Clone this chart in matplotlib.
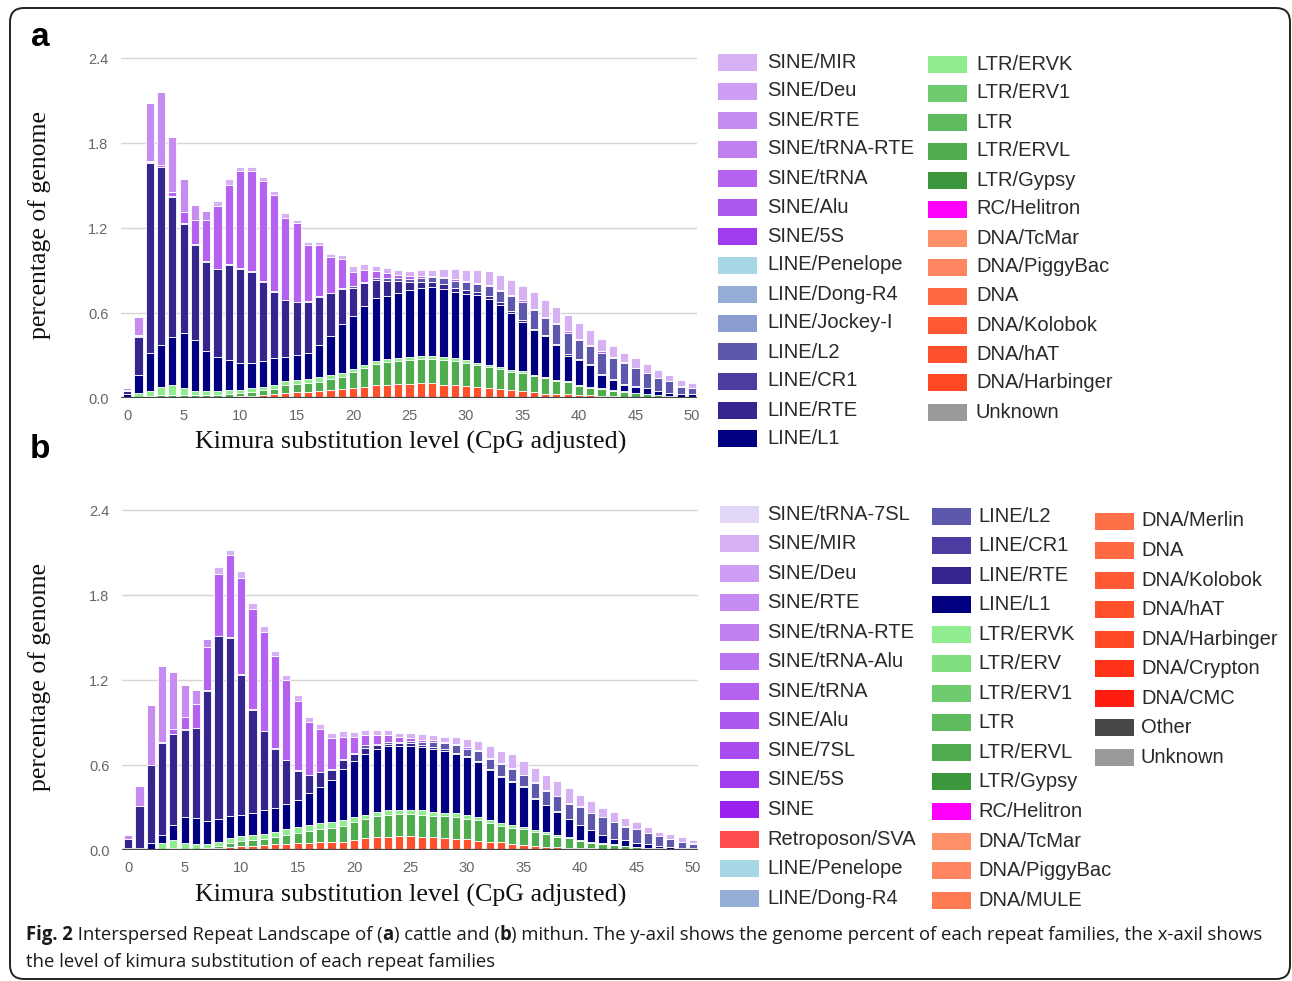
import numpy as np
import matplotlib
matplotlib.use("Agg")
import matplotlib.pyplot as plt
from matplotlib.patches import Rectangle, FancyBboxPatch
from matplotlib.transforms import IdentityTransform


W, H = 1292, 981
KIMURA = np.arange(51)

# ---- panel a (cattle): stacked segment heights, % of genome ----
dna_hat_a = [0, .005, .005, .005, .005, .005, .01, .01, .01, .01,
             .015, .015, .02, .025, .035, .04, .045, .05, .055, .065,
             .07, .08, .09, .095, .10, .10, .105, .105, .095, .09,
             .085, .078, .07, .065, .055, .047, .04, .03, .028, .025,
             .02, .018, .015, .012, .01, .008, .006, .005, .004, .003, .003]
ltr_ervl_a = [.002, .005, .01, .015, .015, .015, .01, .01, .01, .015,
              .02, .03, .035, .04, .055, .06, .06, .065, .08, .085,
              .115, .135, .15, .16, .16, .17, .17, .17, .175, .17,
              .165, .154, .148, .14, .13, .128, .113, .108, .092, .085,
              .067, .056, .05, .039, .033, .024, .021, .013, .01, .006, .006]
ltr_ervk_a = [.008, .025, .035, .06, .07, .05, .03, .03, .03, .035,
              .025, .025, .025, .025, .03, .03, .03, .03, .03, .03,
              .02, .02, .02, .02, .02, .02, .02, .02, .02, .02,
              .02, .018, .017, .015, .015, .015, .012, .012, .01, .01,
              .008, .006, .005, .004, .004, .003, .003, .002, .001, .001, .001]
line_l1_a = [.02, .125, .27, .295, .34, .39, .36, .285, .24, .21,
             .19, .18, .18, .19, .17, .175, .185, .23, .27, .34,
             .375, .415, .445, .445, .465, .47, .485, .49, .48, .47,
             .465, .48, .465, .44, .40, .35, .315, .285, .245, .18,
             .175, .155, .095, .075, .048, .045, .04, .027, .02, .02, .015]
line_rte_a = [.02, .27, 1.34, 1.255, .99, .77, .67, .625, .62, .67,
              .665, .64, .56, .47, .40, .37, .36, .34, .305, .25,
              .20, .16, .13, .11, .08, .06, .04, .035, .035, .03,
              .025, .02, .02, .015, .015, .012, .01, .01, .008, .008,
              .006, .005, .004, .004, .003, .003, .002, .002, .002, .001, .001]
line_l2_a = [0, .005, .005, .005, .005, .005, .005, .005, .005, .005,
             .005, .005, .005, .005, .005, .005, .005, .005, .005, .005,
             .01, .01, .015, .02, .02, .02, .03, .035, .04, .05,
             .06, .055, .07, .08, .105, .128, .13, .12, .137, .152,
             .134, .125, .151, .146, .152, .127, .103, .091, .083, .049, .044]
sine_trna_a = [.01, .01, .01, .01, .03, .08, .175, .295, .44, .56,
               .685, .71, .71, .68, .58, .555, .395, .36, .25, .205,
               .10, .085, .05, .035, .025, .02, .015, .01, .01, .01,
               .01, .01, .01, .01, .01, .01, .01, .01, .01, .01,
               .01, .01, .01, .008, .007, .005, .005, .004, .003, .003, .002]
sine_rte_a = [.01, .13, .41, .52, .39, .23, .105, .065, 0, 0,
              0, 0, 0, 0, 0, 0, 0, 0, 0, 0,
              0, 0, 0, 0, 0, 0, 0, 0, 0, 0,
              0, 0, 0, 0, 0, 0, 0, 0, 0, 0,
              0, 0, 0, 0, 0, 0, 0, 0, 0, 0, 0]
sine_mir_a = [0, 0, 0, 0, 0, 0, 0, 0, .04, .04,
              .03, .03, .03, .025, .03, .025, .025, .025, .02, .03,
              .04, .04, .035, .035, .035, .035, .04, .04, .055, .07,
              .075, .09, .095, .105, .105, .10, .12, .115, .115, .12,
              .11, .105, .09, .082, .063, .065, .06, .051, .037, .047, .033]

# ---- panel b (mithun) ----
dna_hat_b = [0, 0, .002, .005, .005, .005, .005, .01, .015, .02,
             .028, .03, .035, .04, .04, .047, .052, .055, .054, .06,
             .07, .082, .09, .094, .098, .098, .094, .09, .085, .08,
             .075, .066, .059, .054, .04, .035, .03, .023, .023, .016,
             .012, .012, .01, .008, .006, .005, .004, .003, .002, .002, .001]
ltr_ervl_b = [.001, .001, .001, .005, .01, .005, .005, .005, .015, .027,
              .037, .04, .045, .052, .068, .073, .084, .095, .101, .11,
              .129, .134, .15, .156, .158, .158, .156, .152, .152, .152,
              .146, .144, .131, .116, .116, .111, .095, .092, .07, .068,
              .05, .041, .032, .028, .019, .016, .01, .008, .006, .004, .003]
ltr_ervk_b = [.002, .004, .007, .04, .055, .04, .03, .025, .03, .04,
              .035, .035, .03, .035, .04, .04, .04, .04, .04, .04,
              .035, .03, .03, .03, .03, .03, .03, .028, .028, .026,
              .025, .024, .02, .02, .02, .018, .015, .014, .012, .01,
              .008, .006, .005, .004, .003, .002, .002, .001, .001, .001, .001]
line_l1_b = [.01, .01, .037, .055, .106, .184, .187, .166, .16, .153,
             .15, .155, .175, .173, .18, .196, .224, .255, .302, .364,
             .392, .434, .445, .454, .452, .452, .45, .445, .438, .417,
             .41, .386, .357, .325, .304, .281, .223, .187, .165, .122,
             .106, .081, .058, .035, .042, .024, .024, .016, .014, .005, .005]
line_rte_b = [.065, .295, .553, .652, .644, .616, .633, .919, 1.29, 1.26,
              .99, .73, .555, .415, .305, .204, .127, .105, .07, .063,
              .049, .04, .025, .018, .015, .015, .012, .012, .01, .01,
              .01, .008, .008, .007, .006, .005, .005, .004, .004, .003,
              .003, .003, .002, .002, .002, .002, .001, .001, .001, .001, .001]
line_l2_b = [0, .003, .003, .003, .003, .003, .003, .003, .003, .003,
             .003, .003, .003, .003, .003, .003, .003, .003, .005, .008,
             .01, .02, .01, .008, .013, .015, .018, .039, .042, .055,
             .049, .072, .07, .088, .088, .077, .108, .10, .106, .109,
             .126, .115, .123, .118, .092, .096, .076, .069, .051, .046, .034]
sine_trna_b = [0, 0, 0, 0, .03, .09, .17, .305, .44, .58,
               .68, .71, .70, .655, .562, .49, .373, .305, .218, .155,
               .112, .07, .06, .05, .03, .025, .02, .012, .01, .01,
               .01, .008, .008, .008, .007, .006, .006, .005, .005, .005,
               .004, .004, .003, .003, .003, .002, .002, .002, .001, .001, .001]
sine_rte_b = [.025, .14, .42, .543, .405, .225, .10, .06, 0, 0,
              0, 0, 0, 0, 0, 0, 0, 0, 0, 0,
              0, 0, 0, 0, 0, 0, 0, 0, 0, 0,
              0, 0, 0, 0, 0, 0, 0, 0, 0, 0,
              0, 0, 0, 0, 0, 0, 0, 0, 0, 0, 0]
sine_mir_b = [0, 0, 0, 0, 0, 0, 0, 0, .05, .04,
              .05, .045, .04, .035, .042, .04, .04, .035, .04, .04,
              .04, .035, .035, .035, .034, .036, .04, .035, .035, .047,
              .06, .065, .085, .085, .094, .095, .098, .105, .105, .105,
              .081, .085, .067, .072, .056, .053, .045, .029, .037, .029, .023]

# legend columns (top-to-bottom order; stacking is the reverse)
legend_a_cols = [
  ["SINE/MIR", "SINE/Deu", "SINE/RTE", "SINE/tRNA-RTE", "SINE/tRNA", "SINE/Alu",
   "SINE/5S", "LINE/Penelope", "LINE/Dong-R4", "LINE/Jockey-I", "LINE/L2",
   "LINE/CR1", "LINE/RTE", "LINE/L1"],
  ["LTR/ERVK", "LTR/ERV1", "LTR", "LTR/ERVL", "LTR/Gypsy", "RC/Helitron",
   "DNA/TcMar", "DNA/PiggyBac", "DNA", "DNA/Kolobok", "DNA/hAT",
   "DNA/Harbinger", "Unknown"],
]
legend_b_cols = [
  ["SINE/tRNA-7SL", "SINE/MIR", "SINE/Deu", "SINE/RTE", "SINE/tRNA-RTE",
   "SINE/tRNA-Alu", "SINE/tRNA", "SINE/Alu", "SINE/7SL", "SINE/5S", "SINE",
   "Retroposon/SVA", "LINE/Penelope", "LINE/Dong-R4"],
  ["LINE/L2", "LINE/CR1", "LINE/RTE", "LINE/L1", "LTR/ERVK", "LTR/ERV",
   "LTR/ERV1", "LTR", "LTR/ERVL", "LTR/Gypsy", "RC/Helitron", "DNA/TcMar",
   "DNA/PiggyBac", "DNA/MULE"],
  ["DNA/Merlin", "DNA", "DNA/Kolobok", "DNA/hAT", "DNA/Harbinger",
   "DNA/Crypton", "DNA/CMC", "Other", "Unknown"],
]

COLORS = {
  "SINE/tRNA-7SL": "#e2d6f7", "SINE/MIR": "#d6b2f5", "SINE/Deu": "#cd9ef3",
  "SINE/RTE": "#c68cf1", "SINE/tRNA-RTE": "#c080f0", "SINE/tRNA-Alu": "#ba74f0",
  "SINE/tRNA": "#b462ef", "SINE/Alu": "#ad58ef", "SINE/7SL": "#a84cef",
  "SINE/5S": "#a03cee", "SINE": "#9a20ee", "Retroposon/SVA": "#ff4c4c",
  "LINE/Penelope": "#a8d8e6", "LINE/Dong-R4": "#94acd6", "LINE/Jockey-I": "#8a9dd0",
  "LINE/L2": "#5e58ac", "LINE/CR1": "#4a3ca0", "LINE/RTE": "#35268f",
  "LINE/L1": "#000080",
  "LTR/ERVK": "#8fec8f", "LTR/ERV": "#80e080", "LTR/ERV1": "#6ecc6e",
  "LTR": "#5ebc5e", "LTR/ERVL": "#4fad4f", "LTR/Gypsy": "#3c963c",
  "RC/Helitron": "#ff00ff",
  "DNA/TcMar": "#ff9168", "DNA/PiggyBac": "#ff8660", "DNA/MULE": "#ff7a52",
  "DNA/Merlin": "#ff7048", "DNA": "#ff6a42", "DNA/Kolobok": "#ff5a34",
  "DNA/hAT": "#ff512c", "DNA/Harbinger": "#ff4824", "DNA/Crypton": "#ff3218",
  "DNA/CMC": "#ff1c10", "Other": "#474747", "Unknown": "#999999",
}

series_a = {
  "DNA/hAT": dna_hat_a, "LTR/ERVL": ltr_ervl_a, "LTR/ERVK": ltr_ervk_a,
  "LINE/L1": line_l1_a, "LINE/RTE": line_rte_a, "LINE/L2": line_l2_a,
  "SINE/tRNA": sine_trna_a, "SINE/RTE": sine_rte_a, "SINE/MIR": sine_mir_a,
}
series_b = {
  "DNA/hAT": dna_hat_b, "LTR/ERVL": ltr_ervl_b, "LTR/ERVK": ltr_ervk_b,
  "LINE/L1": line_l1_b, "LINE/RTE": line_rte_b, "LINE/L2": line_l2_b,
  "SINE/tRNA": sine_trna_b, "SINE/RTE": sine_rte_b, "SINE/MIR": sine_mir_b,
}

SANS = ["Liberation Sans", "DejaVu Sans"]
SERIF = ["Liberation Serif", "DejaVu Serif"]


def fx(x):
  return x / W


def fy(y):
  return 1 - y / H


# Draw one stacked repeat landscape into a panel
def draw_panel(ax, series, legend_cols):
  order = [name for col in legend_cols for name in col][::-1]
  bottom = np.zeros(len(KIMURA))
  for name in order:
    if name not in series:
      continue
    vals = np.array(series[name], dtype=float)
    ax.bar(KIMURA, vals, bottom=bottom, width=0.72, color=COLORS[name],
           edgecolor="white", linewidth=0.6, zorder=2)
    bottom += vals

  ax.set_xlim(-0.55, 50.45)
  ax.set_ylim(0, 2.41)
  ax.set_yticks([0, 0.6, 1.2, 1.8, 2.4])
  ax.set_yticklabels(["0.0", "0.6", "1.2", "1.8", "2.4"])
  ax.set_xticks(range(0, 51, 5))
  ax.grid(axis="y", color="#d6d6d6", linewidth=1)
  ax.set_axisbelow(True)
  for spine in ax.spines.values():
    spine.set_visible(False)
  ax.axhline(0, color="#444444", linewidth=1.6, zorder=3)
  ax.tick_params(axis="both", length=0, labelsize=10.5, colors="#666666")
  ax.tick_params(axis="y", pad=9)
  ax.tick_params(axis="x", pad=8)
  for lab in ax.get_xticklabels() + ax.get_yticklabels():
    lab.set_family(SANS)


# Hand-placed legend columns, as in the original figure
def draw_legend(fig, cols, patch_x, text_x, y_starts, step):
  for col, px, tx, y0 in zip(cols, patch_x, text_x, y_starts):
    for i, name in enumerate(col):
      yc = y0 + i * step
      fig.add_artist(Rectangle((fx(px), fy(yc + 8.5)), fx(39), 17 / H,
                               transform=fig.transFigure,
                               facecolor=COLORS[name], edgecolor="none"))
      fig.text(fx(tx), fy(yc), name, fontsize=14.5, color="#2a2a2a",
               family=SANS, va="center", ha="left")


fig = plt.figure(figsize=(W / 100, H / 100), dpi=100)

ax_a = fig.add_axes([fx(121), fy(398), fx(697 - 121), (398 - 57) / H])
ax_b = fig.add_axes([fx(122), fy(850), fx(698 - 122), (850 - 509) / H])
draw_panel(ax_a, series_a, legend_a_cols)
draw_panel(ax_b, series_b, legend_b_cols)

for yc_lab, yc_x in [(225, 442), (677, 895)]:
  fig.text(fx(40), fy(yc_lab), "percentage of genome", rotation=90,
           fontsize=18.5, family=SERIF, color="#111111", ha="center", va="center")
  fig.text(fx(411), fy(yc_x), "Kimura substitution level (CpG adjusted)",
           fontsize=18.7, family=SERIF, color="#111111", ha="center", va="center")

fig.text(fx(40), fy(37), "a", fontsize=24, fontweight="bold", family=SANS,
         ha="center", va="center")
fig.text(fx(40), fy(450), "b", fontsize=24, fontweight="bold", family=SANS,
         ha="center", va="center")

draw_legend(fig, legend_a_cols, [718, 928], [767, 976], [62, 64], 29.0)
draw_legend(fig, legend_b_cols, [720, 932, 1095], [767, 978, 1141],
            [514, 516, 521], 29.55)

# caption with bold runs
renderer = fig.canvas.get_renderer()
caption_1 = [("Fig. 2", "bold"), (" Interspersed Repeat Landscape of (", "normal"),
             ("a", "bold"), (") cattle and (", "normal"), ("b", "bold"),
             (") mithun. The y-axil shows the genome percent of each repeat families, "
              "the x-axil shows", "normal")]
caption_2 = [("the level of kimura substitution of each repeat families", "normal")]
for runs, yc in [(caption_1, 935), (caption_2, 962)]:
  x = 26
  for text, weight in runs:
    t = fig.text(fx(x), fy(yc), text, fontsize=13.35, fontweight=weight,
                 family=["Open Sans", "DejaVu Sans"], color="#1a1a1a",
                 ha="left", va="center")
    x += t.get_window_extent(renderer).width

frame = FancyBboxPatch((10, 2), 1280, 971, boxstyle="round,pad=0,rounding_size=14",
                       transform=IdentityTransform(), fill=False,
                       edgecolor="#222222", linewidth=1.4)
fig.add_artist(frame)

fig.savefig("out.png", dpi=100)
